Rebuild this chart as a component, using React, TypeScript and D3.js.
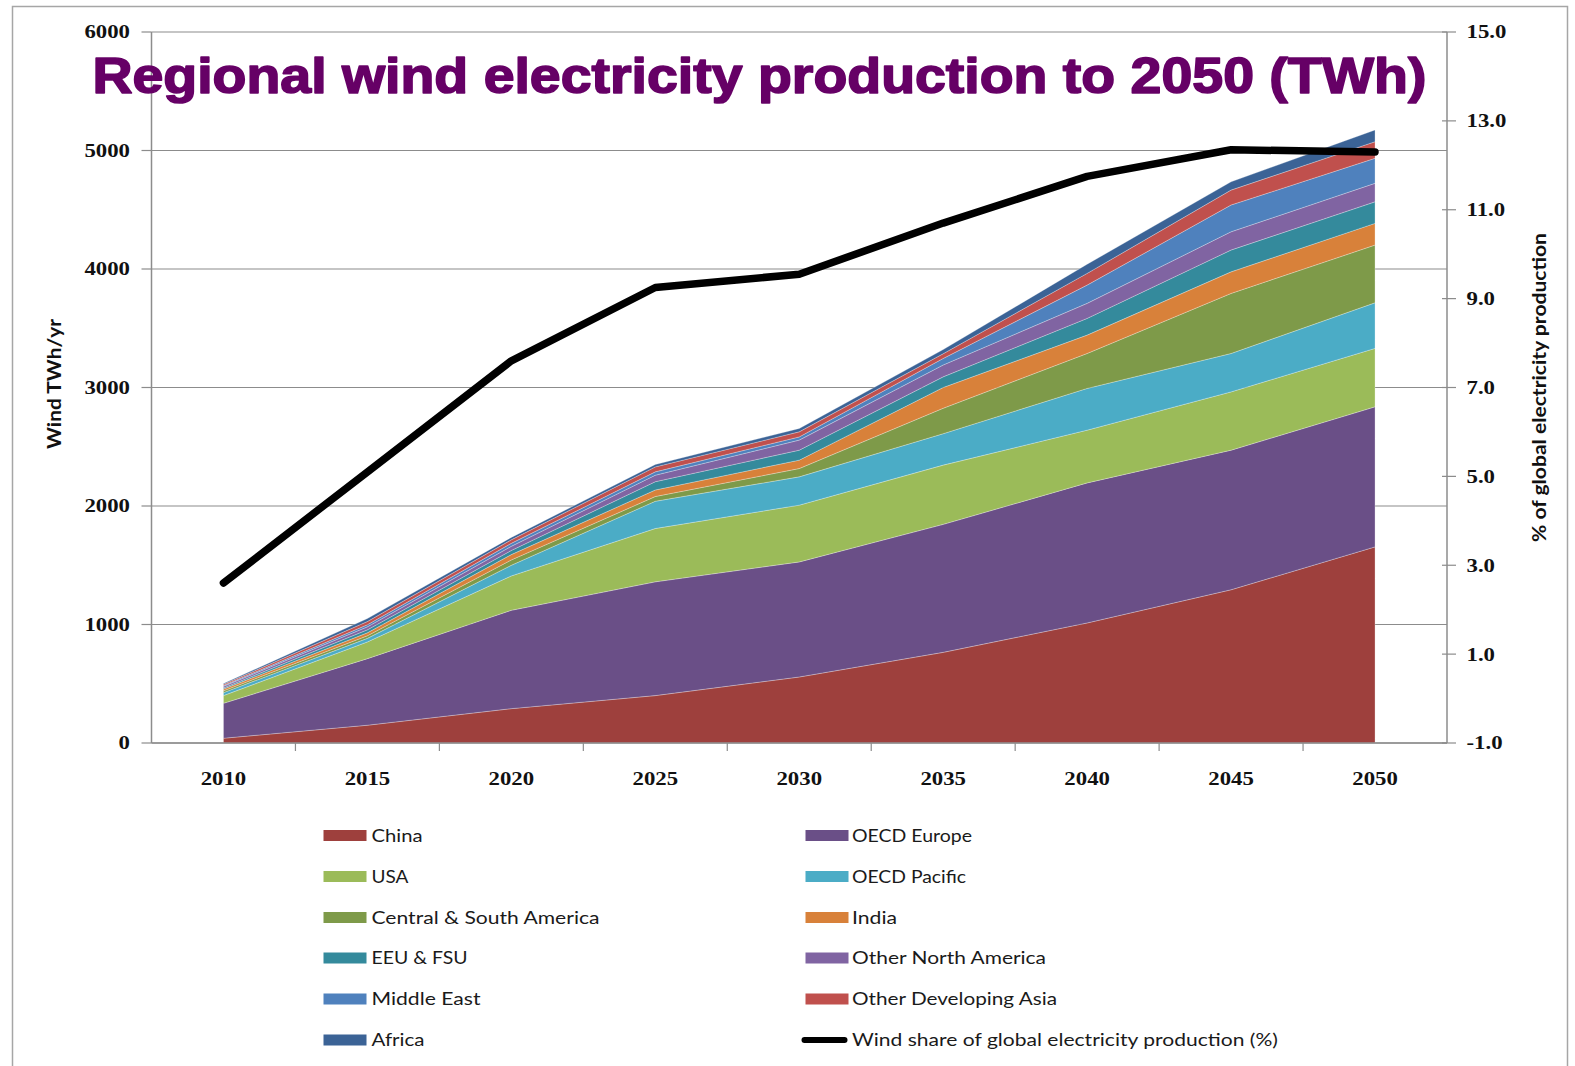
import React from 'react';
import * as d3 from 'd3';

const years = ['2010', '2015', '2020', '2025', '2030', '2035', '2040', '2045', '2050'];
const seriesNames = [
  'China', 'OECD Europe', 'USA', 'OECD Pacific', 'Central & South America', 'India',
  'EEU & FSU', 'Other North America', 'Middle East', 'Other Developing Asia', 'Africa',
];
const china = [40, 150, 290, 400, 557, 765, 1013, 1293, 1655];
const oecdEurope = [295, 562, 830, 960, 971, 1080, 1182, 1178, 1182];
const usa = [65, 141, 290, 450, 479, 500, 445, 492, 493];
const oecdPacific = [25, 30, 90, 230, 239, 265, 352, 324, 385];
const centralSouthAmerica = [15, 22, 45, 40, 70, 215, 295, 507, 487];
const india = [15, 25, 45, 55, 71, 175, 155, 182, 183];
const eeuFsu = [10, 25, 35, 70, 84, 90, 141, 184, 182];
const otherNorthAmerica = [13, 25, 35, 55, 85, 100, 127, 154, 156];
const middleEast = [7, 18, 25, 28, 27, 55, 154, 226, 211];
const otherDevelopingAsia = [10, 27, 30, 42, 43, 40, 99, 126, 140];
const africa = [7, 25, 20, 20, 28, 35, 77, 70, 99];
const windShare = [2.6, 5.1, 7.6, 9.25, 9.55, 10.7, 11.75, 12.35, 12.3];

const leftTicks = [0, 1000, 2000, 3000, 4000, 5000, 6000];
const rightTicks = [-1, 1, 3, 5, 7, 9, 11, 13, 15];

const seriesValues = [
  china, oecdEurope, usa, oecdPacific, centralSouthAmerica, india,
  eeuFsu, otherNorthAmerica, middleEast, otherDevelopingAsia, africa,
];
const colors = [
  '#9E403D', '#6A4F87', '#9BBB59', '#4BACC6', '#7E9A49', '#D8813A',
  '#348A9C', '#8064A2', '#4F81BD', '#C0504D', '#3B6396',
];
const lineLabel = 'Wind share of global electricity production (%)';
const legendWidths = [51, 120, 37, 114, 228, 45, 96, 194, 109, 205, 53, 426];

const W = 1575;
const H = 1066;
const X0 = 151.5;
const X1 = 1447;
const YT = 32;
const YB = 743;

export default function App() {
  const x = d3.scaleBand<string>().domain(years).range([X0, X1]).padding(0);
  const cx = (yr: string) => (x(yr) as number) + x.bandwidth() / 2;
  const yL = d3.scaleLinear().domain([0, 6000]).range([YB, YT]);
  const yR = d3.scaleLinear().domain([-1, 15]).range([YB, YT]);

  const table = years.map((yr, i) => {
    const row: any = { year: yr };
    seriesNames.forEach((n, k) => { row[n] = seriesValues[k][i]; });
    return row;
  });
  const stacked = d3.stack<any>().keys(seriesNames)(table);
  const area = d3.area<any>()
    .x((d) => cx(d.data.year))
    .y0((d) => yL(d[0]))
    .y1((d) => yL(d[1]));
  const line = d3.line<number>()
    .x((_, i) => cx(years[i]))
    .y((v) => yR(v));

  const tickFont = { fontFamily: '"Liberation Serif", serif', fontWeight: 700, fontSize: 19, fill: '#111' } as any;
  const legendRows = [835.5, 876.5, 917.5, 958, 999, 1040];
  const legendCols = [{ sw: 323.5, tx: 371.5 }, { sw: 805.5, tx: 852 }];

  return (
    <div style={{ position: 'absolute', left: 0, top: 0 }}>
      <svg width={W} height={H} style={{ display: 'block', background: '#fff' }}>
        <rect x={0} y={0} width={W} height={H} fill="#fff" />
        {/* frame */}
        <path d={`M12.5,${H + 5} V6.5 H1567.5 V${H + 5}`} fill="none" stroke="#A6A6A6" strokeWidth={1.5} />

        {/* gridlines */}
        {leftTicks.map((t) => (
          <line key={'g' + t} x1={X0} x2={X1} y1={yL(t)} y2={yL(t)} stroke="#8C8C8C" strokeWidth={1.2} />
        ))}

        {/* areas */}
        {stacked.map((s, k) => (
          <path key={s.key} d={area(s) as string} fill={colors[k]}
            stroke="rgba(255,255,255,0.35)" strokeWidth={0.8} />
        ))}

        {/* axes */}
        <line x1={X0} x2={X0} y1={YT} y2={YB} stroke="#8C8C8C" strokeWidth={1.5} />
        <line x1={X1} x2={X1} y1={YT} y2={YB} stroke="#8C8C8C" strokeWidth={1.5} />
        <line x1={X0} x2={X1} y1={YB} y2={YB} stroke="#8C8C8C" strokeWidth={1.5} />
        {leftTicks.map((t) => (
          <g key={'lt' + t}>
            <line x1={X0 - 10} x2={X0} y1={yL(t)} y2={yL(t)} stroke="#8C8C8C" strokeWidth={1.2} />
            <text transform={`translate(130,${yL(t)}) scale(1.2,1)`} textAnchor="end" dy="0.34em" {...tickFont}>{t}</text>
          </g>
        ))}
        {rightTicks.map((t) => (
          <g key={'rt' + t}>
            <line x1={X1 - 5} x2={X1 + 9} y1={yR(t)} y2={yR(t)} stroke="#8C8C8C" strokeWidth={1.2} />
            <text transform={`translate(1466.5,${yR(t)}) scale(1.2,1)`} textAnchor="start" dy="0.34em" {...tickFont}>{t.toFixed(1)}</text>
          </g>
        ))}
        {years.map((yr, i) => (
          <g key={'xt' + yr}>
            {i > 0 && (
              <line x1={x(yr) as number} x2={x(yr) as number} y1={YB} y2={YB + 8} stroke="#8C8C8C" strokeWidth={1.2} />
            )}
            <text transform={`translate(${cx(yr)},784.5) scale(1.2,1)`} textAnchor="middle" {...tickFont}>{yr}</text>
          </g>
        ))}

        {/* share line */}
        <path d={line(windShare) as string} fill="none" stroke="#000" strokeWidth={7.5}
          strokeLinecap="round" strokeLinejoin="round" />

        {/* title */}
        <text x={92.4} y={92.5} textLength={1334} lengthAdjust="spacingAndGlyphs"
          fontFamily='"Liberation Sans", Arial, sans-serif' fontWeight={700} fontSize={49.5}
          fill="#660066" stroke="#660066" strokeWidth={1.6} strokeLinejoin="round">
          Regional wind electricity production to 2050 (TWh)
        </text>

        {/* axis titles */}
        <text transform="translate(61,384) rotate(-90)" textAnchor="middle" textLength={130} lengthAdjust="spacingAndGlyphs"
          fontFamily="Lato, sans-serif" fontWeight={700} fontSize={18} fill="#111">Wind TWh/yr</text>
        <text transform="translate(1540,387.5) rotate(-90)" textAnchor="middle" dy="0.35em" textLength={309} lengthAdjust="spacingAndGlyphs"
          fontFamily="Lato, sans-serif" fontWeight={700} fontSize={18} fill="#111">% of global electricity production</text>

        {/* legend */}
        {[...seriesNames, lineLabel].map((n, i) => {
          const row = Math.floor(i / 2);
          const col = legendCols[i % 2];
          const yy = legendRows[row];
          return (
            <g key={'lg' + n}>
              {i < seriesNames.length ? (
                <rect x={col.sw} y={yy - 5.5} width={43} height={11} fill={colors[i]} />
              ) : (
                <line x1={col.sw - 1} x2={col.sw + 39} y1={yy} y2={yy} stroke="#000" strokeWidth={6} strokeLinecap="round" />
              )}
              <text x={col.tx} y={yy} dy="0.36em" textLength={legendWidths[i]} lengthAdjust="spacingAndGlyphs"
                fontFamily="Lato, sans-serif" fontSize={18} fill="#1a1a1a">{n}</text>
            </g>
          );
        })}
      </svg>
    </div>
  );
}
